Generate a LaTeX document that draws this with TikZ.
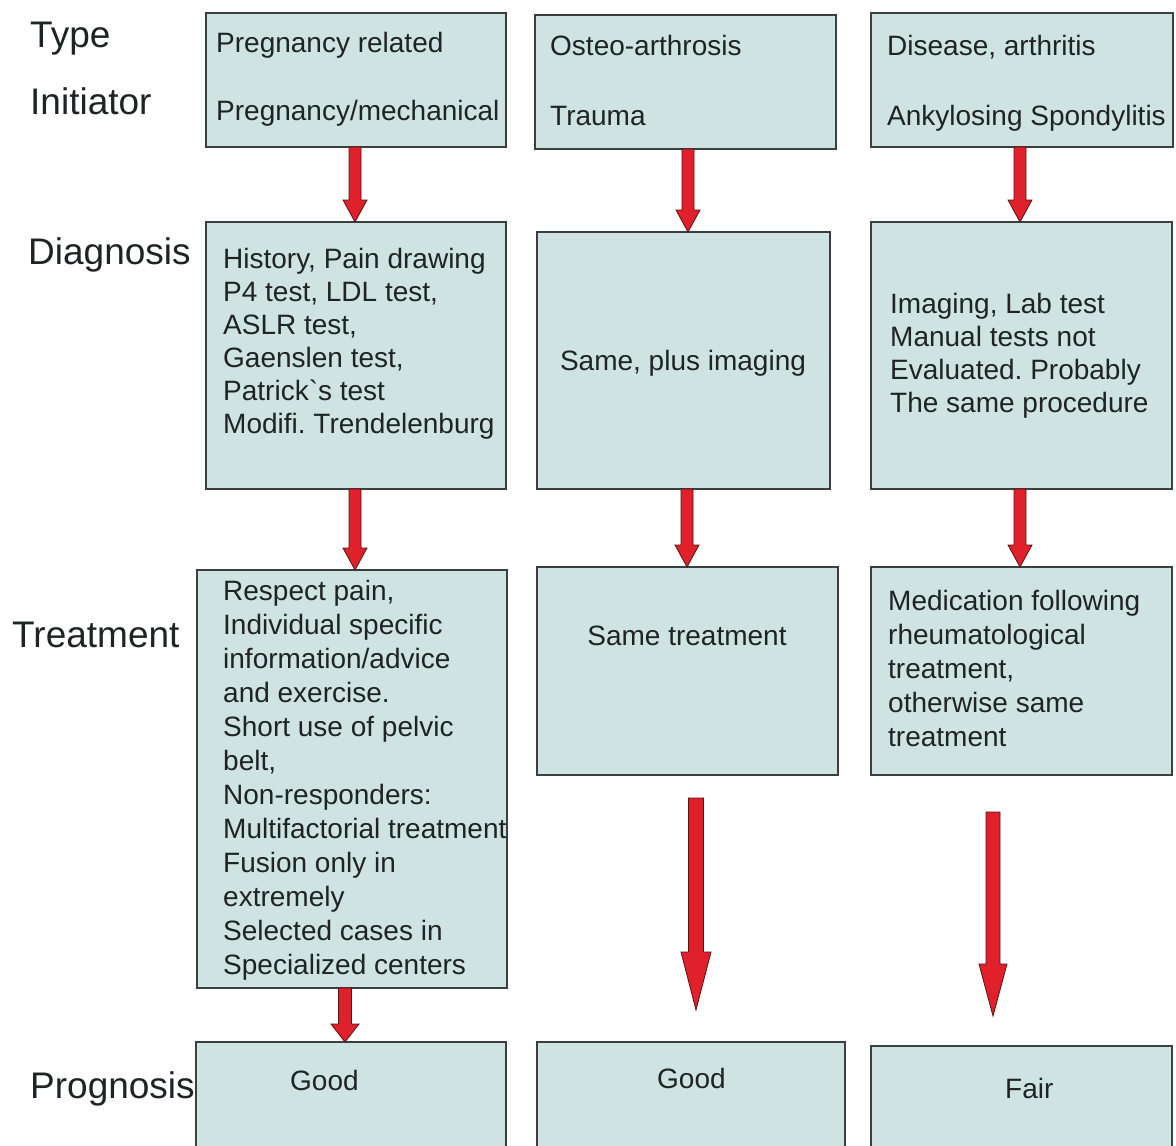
\documentclass[tikz,border=0pt]{standalone}
\usepackage{fontspec}
\setmainfont{Liberation Sans}
\usetikzlibrary{calc}
\frenchspacing
\definecolor{boxfill}{HTML}{D0E3E3}
\definecolor{boxline}{HTML}{3A3F3F}
\definecolor{txtcol}{HTML}{1E2424}
\definecolor{arrred}{HTML}{E0202A}
\definecolor{arrline}{HTML}{5A1414}
\newcommand\tstr{\rule{0pt}{24pt}}
\newcommand\redarrow[5]{%
  \draw[arrowsty] let \p1=(#1), \p2=(#2) in
    (\x1-#3,\y1) -- (\x1+#3,\y1) -- (\x1+#3,\y2+#5) -- (\x1+#4,\y2+#5) --
    (\x1,\y2) -- (\x1-#4,\y2+#5) -- (\x1-#3,\y2+#5) -- cycle;}
\begin{document}
\begin{tikzpicture}[x=1pt,y=-1pt,
  box/.style={draw=boxline, fill=boxfill, line width=1.8pt, inner sep=0pt, outer sep=0pt, anchor=north west},
  txt/.style={font=\fontsize{28}{33}\selectfont, text=txtcol, anchor=north west, inner sep=0pt, align=left},
  ctxt/.style={font=\fontsize{28}{33}\selectfont, text=txtcol, anchor=base, inner sep=0pt},
  btxt/.style={font=\fontsize{28}{33}\selectfont, text=txtcol, anchor=base west, inner sep=0pt},
  lbl/.style={font=\fontsize{37}{44}\selectfont, text=txtcol, anchor=base west, inner sep=0pt},
  arrowsty/.style={fill=arrred, draw=arrline, line width=0.8pt, line join=miter}]
\clip (0,0) rectangle (1176,1146);
\fill[white] (0,0) rectangle (1176,1146);

% row labels
\node[lbl] (lType) at (30,47) {Type};
\node[lbl] (lInit) at (30,114) {Initiator};
\node[lbl] (lDiag) at (28,264) {Diagnosis};
\node[lbl] (lTreat) at (12,647) {Treatment};
\node[lbl] (lProg) at (30,1098) {Prognosis};

% boxes
\node[box, minimum width=300pt, minimum height=134pt] (A1) at (206,13) {};
\node[box, minimum width=301pt, minimum height=134pt] (B1) at (535,15) {};
\node[box, minimum width=302pt, minimum height=134pt] (C1) at (871,13) {};
\node[box, minimum width=300pt, minimum height=267pt] (A2) at (206,222) {};
\node[box, minimum width=293pt, minimum height=257pt] (B2) at (537,232) {};
\node[box, minimum width=301pt, minimum height=267pt] (C2) at (871,222) {};
\node[box, minimum width=310pt, minimum height=418pt] (A3) at (197,570) {};
\node[box, minimum width=301pt, minimum height=208pt] (B3) at (537,567) {};
\node[box, minimum width=301pt, minimum height=208pt] (C3) at (871,567) {};
\node[box, minimum width=310pt, minimum height=130pt] (A4) at (196,1042) {};
\node[box, minimum width=308pt, minimum height=130pt] (B4) at (537,1042) {};
\node[box, minimum width=301pt, minimum height=130pt] (C4) at (871,1046) {};

% texts
\node[txt] (tA1) at (216,28) {\tstr Pregnancy related\\[35pt]Pregnancy/mechanical};
\node[txt] (tB1) at (550,31) {\tstr Osteo-arthrosis\\[37pt]Trauma};
\node[txt] (tC1) at (887,31) {\tstr Disease, arthritis\\[37pt]Ankylosing Spondylitis};
\node[txt] (tA2) at (223,244) {\tstr History, Pain drawing\\P4 test, LDL test,\\ASLR test,\\Gaenslen test,\\Patrick\textasciigrave s test\\Modifi. Trendelenburg};
\node[ctxt] (tB2) at (683,370) {Same, plus imaging};
\node[txt] (tC2) at (890,289) {\tstr Imaging, Lab test\\Manual tests not\\Evaluated. Probably\\The same procedure};
\node[txt, font=\fontsize{28}{34}\selectfont] (tA3) at (223,576) {\tstr Respect pain,\\Individual specific\\information/advice\\and exercise.\\Short use of pelvic\\belt,\\Non-responders:\\Multifactorial treatment\\Fusion only in\\extremely\\Selected cases in\\Specialized centers};
\node[ctxt] (tB3) at (687,645) {Same treatment};
\node[txt, font=\fontsize{28}{34}\selectfont] (tC3) at (888,586) {\tstr Medication following\\rheumatological\\treatment,\\otherwise same\\treatment};
\node[btxt] (tA4) at (290,1090) {Good};
\node[btxt] (tB4) at (657,1088) {Good};
\node[btxt] (tC4) at (1005,1098) {Fair};

% arrows
\redarrow{[xshift=-1pt]A1.south}{[xshift=-1pt]A2.north}{6pt}{12pt}{22pt}
\redarrow{[xshift=2.5pt]B1.south}{[xshift=2.5pt]B2.north}{6pt}{12pt}{22pt}
\redarrow{[xshift=-2pt]C1.south}{[xshift=-2pt]C2.north}{6pt}{12pt}{22pt}
\redarrow{[xshift=-1pt]A2.south}{[xshift=-1pt]A3.north}{6pt}{12pt}{22pt}
\redarrow{[xshift=3.5pt]B2.south}{[xshift=3.5pt]B3.north}{6pt}{12pt}{22pt}
\redarrow{[xshift=-1.5pt]C2.south}{[xshift=-1.5pt]C3.north}{6pt}{12pt}{22pt}
\redarrow{[xshift=-7pt]A3.south}{[xshift=-7pt]A4.north}{6.5pt}{14pt}{18pt}
\coordinate (bs) at (696,798);
\coordinate (be) at (696,1010);
\coordinate (cs) at (993,812);
\coordinate (ce) at (993,1016);
\redarrow{bs}{be}{7.5pt}{15pt}{58pt}
\redarrow{cs}{ce}{7pt}{14pt}{52pt}
\end{tikzpicture}
\end{document}
